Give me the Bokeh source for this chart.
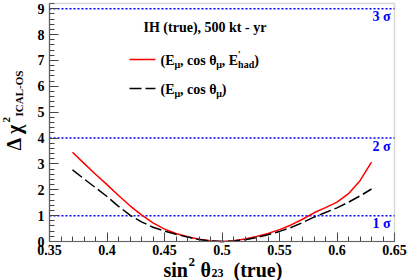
import numpy as np
from bokeh.plotting import figure
from bokeh.models import Label, FixedTicker, Range1d, Arrow, BoxAnnotation
from bokeh.embed import file_html
from bokeh.resources import INLINE

# ---- data ----
sin2_theta23_true = [0.37, 0.38, 0.39, 0.40, 0.41, 0.42, 0.43, 0.44, 0.45, 0.46,
                     0.47, 0.48, 0.49, 0.50, 0.51, 0.52, 0.53, 0.54, 0.55, 0.56,
                     0.57, 0.58, 0.59, 0.60, 0.61, 0.62, 0.63]
dchi2_emu_cos_ehad = [3.45, 3.02, 2.60, 2.20, 1.78, 1.38, 1.03, 0.72, 0.48, 0.31,
                      0.18, 0.09, 0.03, 0.00, 0.03, 0.10, 0.19, 0.31, 0.46, 0.64,
                      0.86, 1.11, 1.31, 1.52, 1.85, 2.35, 3.07]
dchi2_emu_cos = [2.77, 2.42, 2.08, 1.74, 1.36, 1.02, 0.76, 0.55, 0.40, 0.28,
                 0.17, 0.08, 0.02, 0.00, 0.02, 0.07, 0.15, 0.26, 0.39, 0.54,
                 0.73, 0.94, 1.12, 1.30, 1.52, 1.76, 2.03]
x_ticks = [0.35, 0.40, 0.45, 0.50, 0.55, 0.60, 0.65]
x_tick_labels = ["0.35", "0.4", "0.45", "0.5", "0.55", "0.6", "0.65"]
y_ticks = [0, 1, 2, 3, 4, 5, 6, 7, 8, 9]
y_tick_labels = ["0", "1", "2", "3", "4", "5", "6", "7", "8", "9"]
sigma_levels = [1, 4, 9]
sigma_labels = ["1 σ", "2 σ", "3 σ"]
legend_title = "IH (true), 500 kt - yr"

# ---- layout (pixel positions of the data box inside the 407x280 canvas) ----
W, H = 407, 280
L, R, T, B = 49, 394, 3, 241
X0, X1 = 0.35, 0.65
Y0, Y1 = 0.0, 9.2
FONT = "Liberation Serif"
DY = 4.5  # baseline correction for Label text


def xd(px):
    return X0 + (px - L) / (R - L) * (X1 - X0)


def yd(py):
    return Y0 + (B - py) / (B - T) * (Y1 - Y0)


p = figure(width=W, height=H, x_range=Range1d(xd(0), xd(W)), y_range=Range1d(yd(H), yd(0)),
           output_backend="svg", toolbar_location=None,
           min_border_left=0, min_border_right=0, min_border_top=0, min_border_bottom=0)
p.background_fill_color = "white"
p.border_fill_color = "white"
p.xgrid.visible = False
p.ygrid.visible = False
p.outline_line_color = None

# data frame box
p.add_layout(BoxAnnotation(left=X0, right=X1, bottom=Y0, top=Y1, fill_color=None,
                           line_color="#808080", line_width=1.5))

xax = p.xaxis[0]
yax = p.yaxis[0]
xax.fixed_location = Y0
yax.fixed_location = X0
xax.bounds = (X0, X1)
yax.bounds = (Y0, Y1)
for ax in (xax, yax):
    ax.major_tick_in = 9
    ax.major_tick_out = 0
    ax.minor_tick_in = 5
    ax.minor_tick_out = 0
    ax.axis_line_color = "#555555"
    ax.axis_line_width = 1.2
    ax.major_tick_line_color = "#444444"
    ax.minor_tick_line_color = "#444444"
    ax.major_label_text_font = FONT
    ax.major_label_text_font_style = "bold"
    ax.major_label_text_font_size = "14px"
    ax.major_label_text_color = "black"

xax.ticker = FixedTicker(ticks=x_ticks,
                         minor_ticks=[round(v, 2) for v in np.arange(0.35, 0.6501, 0.01)])
xax.major_label_overrides = dict(zip(x_ticks, x_tick_labels))
yax.ticker = FixedTicker(ticks=y_ticks,
                         minor_ticks=[round(v, 1) for v in np.arange(0, 9.21, 0.2)])
yax.major_label_overrides = dict(zip(y_ticks, y_tick_labels))
xax.major_label_standoff = 3
yax.major_label_standoff = 5


def txt(px, py, s, size, color="black", angle=0.0, align="left"):
    if angle == 0.0:
        py = py - DY
    else:
        px = px - DY
    p.add_layout(Label(x=xd(px), y=yd(py), text=s, angle=angle,
                       text_font=FONT, text_font_style="bold",
                       text_font_size=f"{size}px", text_color=color,
                       text_align=align, text_baseline="alphabetic"))


# sigma lines
p.segment(x0=[X0] * len(sigma_levels), x1=[X1] * len(sigma_levels),
          y0=sigma_levels, y1=sigma_levels, line_color="#0000ff",
          line_dash="2 2", line_width=1.5)
for lvl, lab in zip(sigma_levels, sigma_labels):
    p.add_layout(Label(x=xd(390), y=lvl - (12.5 - DY) * (Y1 - Y0) / (B - T), text=lab,
                       text_align="right", text_baseline="alphabetic",
                       text_font=FONT, text_font_style="bold",
                       text_font_size="14px", text_color="#0000ff"))

# curves
p.line(sin2_theta23_true, dchi2_emu_cos_ehad, line_color="#ff0000", line_width=1.5)
p.line(sin2_theta23_true, dchi2_emu_cos, line_color="black", line_width=1.5,
       line_dash="12 4")

# x-axis title
txt(163, 274, "sin", 20)
txt(188, 266, "2", 13)
txt(200, 274, "θ", 20)
txt(211, 276.5, "23", 12)
txt(233, 274, "(true)", 20)

# y-axis title (rotated)
ROT = np.pi / 2
txt(18, 150, "Δ χ", 20, angle=ROT)
txt(10, 122, "2", 11, angle=ROT)
txt(23, 116, "ICAL-OS", 11, angle=ROT)

WID = {"(": 333, ")": 333, "E": 667, ",": 250, " ": 250, "c": 444, "o": 500,
       "s": 389, "θ": 500, "μ": 556, "h": 556, "a": 500, "d": 556, "′": 250}


def width(s, size):
    return sum(WID.get(ch, 500) for ch in s) / 1000.0 * size


def row(px, py, pieces):
    for s, size, dy, adv in pieces:
        txt(px, py + dy, s, size)
        if adv:
            px += width(s, size)


# legend
txt(143, 31, legend_title, 14)
p.add_layout(Arrow(end=None, x_start=xd(129), y_start=yd(59), x_end=xd(155), y_end=yd(59),
                   line_color="#ff0000", line_width=1.5))
row(160, 64, [("(E", 14, 0, True), ("μ", 10, 4, True), (", cos θ", 14, 0, True),
              ("μ", 10, 4, True), (", E", 14, 0, True), ("′", 10, -6, False),
              ("had", 10, 4, True), (")", 14, 0, True)])

p.add_layout(Arrow(end=None, x_start=xd(129), y_start=yd(88), x_end=xd(155), y_end=yd(88),
                   line_color="black", line_width=1.5, line_dash="12 4"))
row(160, 93, [("(E", 14, 0, True), ("μ", 10, 4, True), (", cos θ", 14, 0, True),
              ("μ", 10, 4, True), (")", 14, 0, True)])

open("out.html", "w").write(file_html(p, INLINE))
